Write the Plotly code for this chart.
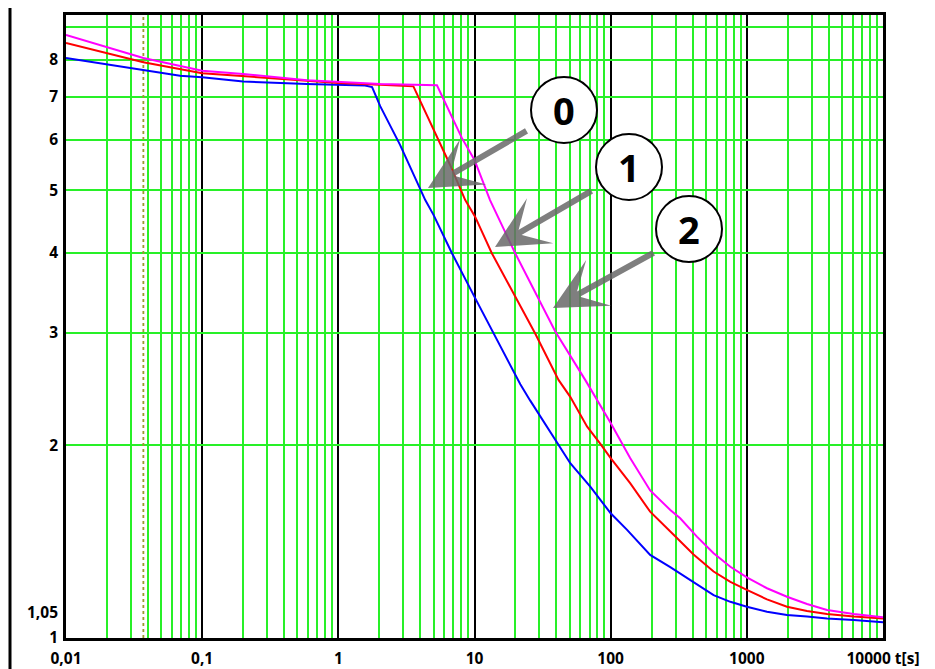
import plotly.graph_objects as go

# time [s] and overload factor, one pair of lists per curve
t_0 = [0.01, 0.037, 0.0688, 0.1, 0.2, 0.587, 1.0, 1.57, 1.77, 2.03, 2.84, 4.35, 5.0, 6.83,
       10, 14.6, 21.7, 25.6, 39.2, 50.5, 70.8, 100, 132, 195, 274, 364, 430, 570, 757,
       1000, 1406, 1972, 2768, 3880, 6095, 10000]
k_0 = [8.05, 7.72, 7.55, 7.51, 7.40, 7.33, 7.31, 7.29, 7.25, 6.77, 5.89, 4.83, 4.58, 3.99,
       3.41, 2.92, 2.49, 2.35, 2.04, 1.875, 1.724, 1.566, 1.475, 1.348, 1.29, 1.24, 1.21, 1.167, 1.139,
       1.119, 1.099, 1.086, 1.08, 1.073, 1.067, 1.058]

t_1 = [0.01, 0.037, 0.1, 0.2, 0.587, 1.0, 2.03, 3.56, 6.62, 8.55, 10.1, 13.4, 27.9, 41.4,
       50.5, 67, 84, 100, 139, 195, 290, 406, 570, 757, 1000, 1406, 1972, 2768, 3880, 6095, 10000]
k_1 = [8.5, 7.93, 7.62, 7.54, 7.40, 7.36, 7.31, 7.27, 5.48, 4.83, 4.55, 3.99, 2.99, 2.53,
       2.38, 2.14, 2.01, 1.91, 1.745, 1.575, 1.45, 1.35, 1.27, 1.224, 1.189, 1.149, 1.119, 1.102,
       1.090, 1.08, 1.073]

t_2 = [0.01, 0.037, 0.1, 0.2, 0.587, 1.0, 2.03, 5.3, 8.07, 10, 13.0, 19.9, 39.2, 65.0, 77.1,
       100, 139, 195, 274, 324, 430, 570, 757, 1000, 1406, 1972, 2768, 3880, 6095, 10000]
k_2 = [8.75, 8.05, 7.69, 7.60, 7.43, 7.38, 7.33, 7.30, 6.04, 5.58, 4.83, 3.99, 3.01, 2.53, 2.38,
       2.166, 1.91, 1.70, 1.585, 1.538, 1.44, 1.356, 1.292, 1.244, 1.196, 1.16, 1.13, 1.106, 1.09, 1.077]

curve_names = ['0', '1', '2']
curve_colors = ['#0000ff', '#ff0000', '#ff00ff']

x_ticks = [0.01, 0.1, 1, 10, 100, 1000, 10000]
x_labels = ['0,01', '0,1', '1', '10', '100', '1000', '10000 t[s]']
y_ticks = [1, 2, 3, 4, 5, 6, 7, 8, 9]
y_labels = ['1', '2', '3', '4', '5', '6', '7', '8', '']
y_extra = 1.05          # extra label near the bottom
marker_t = 0.037        # dotted vertical marker

# page offset of the plot div (body margin) and plot area on the page, in pixels
OFF = 8
L, R, T, B = 66, 883, 15, 638
W, H = 935 - OFF, 669 - OFF


def px(x):
    return (x - L) / (R - L)


def py(y):
    return (B - y) / (B - T)


fig = go.Figure()

# dotted marker line
fig.add_trace(go.Scatter(
    x=[marker_t, marker_t], y=[1, 9.5], mode='lines',
    line=dict(color='#9a9a30', width=1.8, dash='3px,3px'),
    showlegend=False, hoverinfo='skip',
))

for t, k, name, col in zip([t_0, t_1, t_2], [k_0, k_1, k_2], curve_names, curve_colors):
    fig.add_trace(go.Scatter(
        x=t, y=k, mode='lines', name=name,
        line=dict(color=col, width=2),
        showlegend=False,
    ))

minor_x = [m * 10 ** d for d in range(-2, 4) for m in range(2, 10)]
tick_font = dict(family='Open Sans', size=15.5, color='black', weight='bold')

fig.update_xaxes(
    type='log', range=[-2, 4], automargin=False,
    tickvals=x_ticks, ticktext=x_labels, tickfont=tick_font,
    ticks='', ticklabelstandoff=5,
    showgrid=True, gridcolor='black', gridwidth=2,
    minor=dict(tickvals=minor_x, showgrid=True, gridcolor='rgb(40,240,40)', gridwidth=1.5, ticks=''),
    showline=True, linecolor='black', linewidth=2.5, mirror=True,
    zeroline=False,
)
fig.update_yaxes(
    type='log', range=[0, 0.973], automargin=False,
    tickvals=y_ticks, ticktext=y_labels, tickfont=tick_font,
    ticks='', ticklabelstandoff=2,
    showgrid=True, gridcolor='rgb(40,240,40)', gridwidth=1.5,
    showline=True, linecolor='black', linewidth=2.5, mirror=True,
    zeroline=False,
)

annotations = [dict(
    x=0, xref='paper', y=0.0212, yref='y', text='1,05', showarrow=False,
    xanchor='right', yanchor='middle', xshift=-6, yshift=12, font=tick_font,
)]
shapes = [dict(
    type='line', xref='paper', yref='paper',
    x0=px(10), x1=px(10), y0=py(669), y1=py(0),
    line=dict(color='black', width=3),
)]

# numbered callouts with arrows
callouts = [
    ('0', (564, 110), (428, 188), (528, 130)),
    ('1', (629, 167), (495, 247), (593, 190)),
    ('2', (689, 229), (553, 308), (655, 252)),
]
r = 33
for label, (cx, cy), (tx, ty), (sx, sy) in callouts:
    annotations.append(dict(
        x=px(tx), y=py(ty), xref='paper', yref='paper', text='',
        showarrow=True, arrowhead=3, arrowwidth=6, arrowsize=1.45,
        arrowcolor='rgba(105,105,105,0.85)',
        ax=sx - tx, ay=sy - ty,
    ))
    shapes.append(dict(
        type='circle', xref='paper', yref='paper', layer='above',
        x0=px(cx - r), x1=px(cx + r), y0=py(cy + r), y1=py(cy - r),
        fillcolor='white', line=dict(color='black', width=2),
    ))
    annotations.append(dict(
        x=px(cx), y=py(cy), xref='paper', yref='paper', text=label,
        showarrow=False, xanchor='center', yanchor='middle',
        font=dict(family='Open Sans', size=38, color='black', weight='bold'),
    ))

fig.update_layout(
    width=W, height=H,
    margin=dict(l=L - OFF, r=W - (R - OFF), t=T - OFF, b=H - (B - OFF)),
    plot_bgcolor='white', paper_bgcolor='white',
    annotations=annotations, shapes=shapes,
    showlegend=False,
)

fig.write_html("out.html")
